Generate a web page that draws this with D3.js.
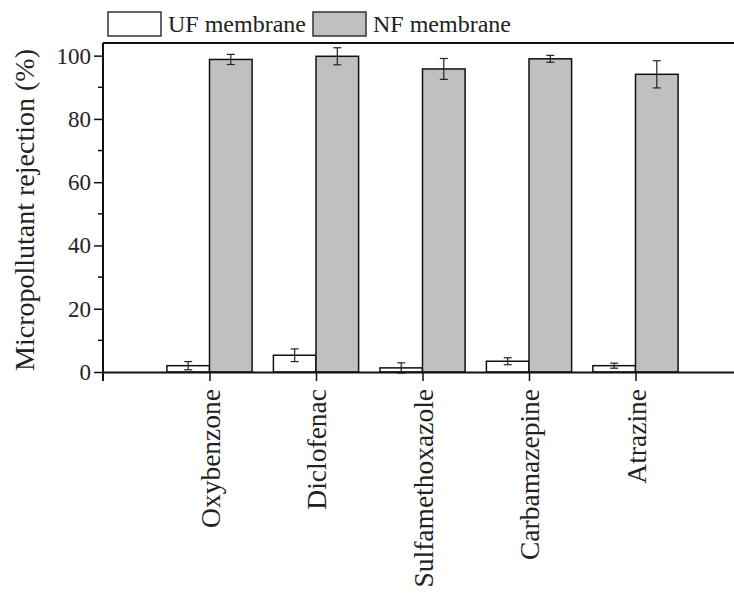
<!DOCTYPE html>
<html>
<head>
<meta charset="utf-8">
<script src="https://cdn.jsdelivr.net/npm/d3@7"></script>
<style>
  html, body { margin: 0; padding: 0; background: #fff; }
  svg { display: block; font-family: "Liberation Serif", "Times New Roman", serif; }
</style>
</head>
<body>
<svg id="chart" width="734" height="596"></svg>
<script>
// Micropollutant rejection by UF and NF membranes
const categories = ["Oxybenzone", "Diclofenac", "Sulfamethoxazole", "Carbamazepine", "Atrazine"];
const ufValues = [2.0, 5.3, 1.3, 3.4, 2.0];
const ufErrors = [1.3, 2.0, 1.6, 1.1, 0.8];
const nfValues = [98.8, 99.8, 95.8, 99.0, 94.1];
const nfErrors = [1.6, 2.7, 3.3, 1.1, 4.3];
const yTicks = [0, 20, 40, 60, 80, 100];
const yMinorTicks = [10, 30, 50, 70, 90];
const seriesNames = ["UF membrane", "NF membrane"];
const seriesFills = ["#ffffff", "#c0c0c0"];

const svg = d3.select("#chart");

const plotLeft = 103, plotTop = 43, plotBottom = 372, plotRight = 742;
const x = d3.scaleLinear().domain([0, 6]).range([plotLeft, plotRight]);
const y = d3.scaleLinear().domain([0, 104]).range([plotBottom, plotTop]);
const barW = 0.4;

// frame: top border line
svg.append("line")
  .attr("x1", plotLeft).attr("x2", 734)
  .attr("y1", plotTop).attr("y2", plotTop)
  .attr("stroke", "#111").attr("stroke-width", 2);

// bars
const series = [
  { vals: ufValues, errs: ufErrors, off: -barW, fill: seriesFills[0] },
  { vals: nfValues, errs: nfErrors, off: 0, fill: seriesFills[1] }
];

series.forEach(s => {
  const g = svg.append("g");
  g.selectAll("rect").data(s.vals).enter().append("rect")
    .attr("x", (d, i) => x(i + 1 + s.off))
    .attr("width", x(barW) - x(0))
    .attr("y", d => y(d))
    .attr("height", d => y(0) - y(d))
    .attr("fill", s.fill)
    .attr("stroke", "#111")
    .attr("stroke-width", 1.5);

  // error bars
  const cx = i => x(i + 1 + s.off + barW / 2);
  g.selectAll("line.err").data(s.vals).enter().append("line")
    .attr("x1", (d, i) => cx(i)).attr("x2", (d, i) => cx(i))
    .attr("y1", (d, i) => y(d + s.errs[i])).attr("y2", (d, i) => y(d - s.errs[i]))
    .attr("stroke", "#222").attr("stroke-width", 1.2);
  [1, -1].forEach(sign => {
    g.selectAll("line.cap" + sign).data(s.vals).enter().append("line")
      .attr("x1", (d, i) => cx(i) - 4).attr("x2", (d, i) => cx(i) + 4)
      .attr("y1", (d, i) => y(d + sign * s.errs[i]))
      .attr("y2", (d, i) => y(d + sign * s.errs[i]))
      .attr("stroke", "#222").attr("stroke-width", 1.2);
  });
});

// y axis
const yAxis = svg.append("g")
  .attr("transform", `translate(${plotLeft},0)`)
  .call(d3.axisLeft(y).tickValues(yTicks).tickSize(9).tickPadding(3).tickSizeOuter(0));
yAxis.select(".domain").attr("stroke", "#111").attr("stroke-width", 2)
  .attr("d", `M0,${plotTop}V${plotBottom + 9}`);
yAxis.selectAll(".tick line").attr("stroke", "#111").attr("stroke-width", 1.5);
yAxis.selectAll(".tick text")
  .attr("font-family", "Liberation Serif").attr("font-size", 23).attr("fill", "#222");
svg.append("g").selectAll("line").data(yMinorTicks).enter().append("line")
  .attr("x1", plotLeft - 5).attr("x2", plotLeft)
  .attr("y1", d => y(d)).attr("y2", d => y(d))
  .attr("stroke", "#111").attr("stroke-width", 1.5);

// x axis
const xAxis = svg.append("g")
  .attr("transform", `translate(0,${plotBottom})`)
  .call(d3.axisBottom(x).tickValues([1, 2, 3, 4, 5]).tickSize(9).tickSizeOuter(0)
    .tickFormat(d => categories[d - 1]));
xAxis.select(".domain").attr("stroke", "#111").attr("stroke-width", 2);
xAxis.selectAll(".tick line").attr("stroke", "#111").attr("stroke-width", 1.5);
xAxis.selectAll(".tick text")
  .attr("font-family", "Liberation Serif").attr("font-size", 27.5).attr("fill", "#222")
  .attr("text-anchor", "end")
  .attr("transform", "translate(0,17) rotate(-90)")
  .attr("x", 0).attr("y", 0).attr("dy", "0.35em");

// y label
svg.append("text")
  .attr("transform", `translate(24,${(47 + 373) / 2}) rotate(-90)`)
  .attr("text-anchor", "middle").attr("dy", "0.35em")
  .attr("font-size", 28).attr("fill", "#222")
  .text("Micropollutant rejection (%)");

// legend
const legendX = [108, 313];
seriesNames.forEach((name, i) => {
  svg.append("rect")
    .attr("x", legendX[i]).attr("y", 12)
    .attr("width", 53).attr("height", 24)
    .attr("fill", seriesFills[i]).attr("stroke", "#333").attr("stroke-width", 1.5);
  svg.append("text")
    .attr("x", legendX[i] + 60).attr("y", 32)
    .attr("font-size", 24).attr("fill", "#222")
    .text(name);
});
</script>
</body>
</html>
